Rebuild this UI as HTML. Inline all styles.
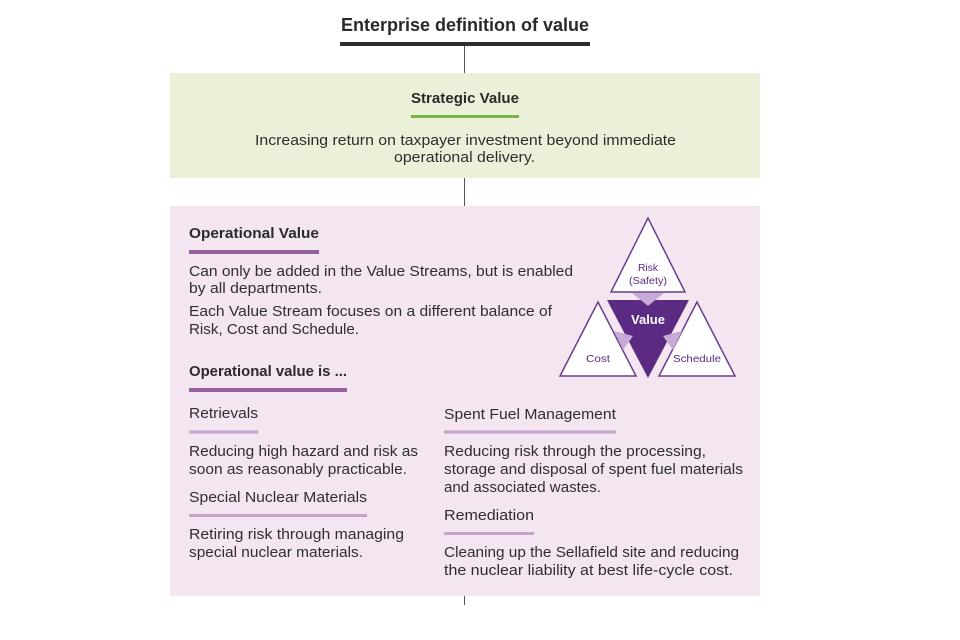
<!DOCTYPE html>
<html>
<head>
<meta charset="utf-8">
<style>
  html, body { margin:0; padding:0; background:#ffffff; }
  svg { display:block; }
  text { font-family: "Liberation Sans", "DejaVu Sans", sans-serif; }
  .b { font-size:15px; fill:#2e2e2e; }
  .h { font-size:14.5px; fill:#2a2a2a; font-weight:bold; }
  .s { font-size:15px; fill:#2e2e2e; }
  .t { fill:#5b2a82; font-size:10.5px; }
</style>
</head>
<body>
<svg width="960" height="640" viewBox="0 0 960 640" xmlns="http://www.w3.org/2000/svg">
  <rect x="0" y="0" width="960" height="640" fill="#ffffff"/>

  <!-- Title -->
  <text x="341" y="31" font-size="18" font-weight="bold" fill="#2a2a2a" textLength="248" lengthAdjust="spacingAndGlyphs">Enterprise definition of value</text>
  <rect x="340" y="42" width="250" height="4" fill="#2d2d2d"/>

  <!-- connector lines -->
  <line x1="464.5" y1="46" x2="464.5" y2="74" stroke="#555" stroke-width="1"/>
  <line x1="464.5" y1="178" x2="464.5" y2="207" stroke="#555" stroke-width="1"/>
  <line x1="464.5" y1="596" x2="464.5" y2="605" stroke="#555" stroke-width="1"/>

  <!-- Strategic box -->
  <rect x="170" y="73" width="590" height="105" fill="#ebf0d9"/>
  <text x="411" y="103" class="h" textLength="108" lengthAdjust="spacingAndGlyphs">Strategic Value</text>
  <rect x="411" y="115" width="108" height="3" fill="#78b543"/>
  <text x="255" y="145" class="b" textLength="421" lengthAdjust="spacingAndGlyphs">Increasing return on taxpayer investment beyond immediate</text>
  <text x="394" y="162" class="b" textLength="141" lengthAdjust="spacingAndGlyphs">operational delivery.</text>

  <!-- Operational box -->
  <rect x="170" y="206" width="590" height="390" fill="#f4e6f0"/>

  <text x="189" y="238" class="h" textLength="130" lengthAdjust="spacingAndGlyphs">Operational Value</text>
  <rect x="189" y="250" width="130" height="4" fill="#94609f"/>
  <text x="189" y="276" class="b" textLength="384" lengthAdjust="spacingAndGlyphs">Can only be added in the Value Streams, but is enabled</text>
  <text x="189" y="293" class="b" textLength="133" lengthAdjust="spacingAndGlyphs">by all departments.</text>
  <text x="189" y="316" class="b" textLength="363" lengthAdjust="spacingAndGlyphs">Each Value Stream focuses on a different balance of</text>
  <text x="189" y="334" class="b" textLength="170" lengthAdjust="spacingAndGlyphs">Risk, Cost and Schedule.</text>

  <text x="189" y="376" class="h" textLength="158" lengthAdjust="spacingAndGlyphs">Operational value is ...</text>
  <rect x="189" y="388" width="158" height="4" fill="#94609f"/>

  <!-- Left column -->
  <text x="189" y="418" class="s" textLength="69" lengthAdjust="spacingAndGlyphs">Retrievals</text>
  <rect x="189" y="430.5" width="69" height="3" fill="#c6a2cd"/>
  <text x="189" y="456" class="b" textLength="229" lengthAdjust="spacingAndGlyphs">Reducing high hazard and risk as</text>
  <text x="189" y="474" class="b" textLength="218" lengthAdjust="spacingAndGlyphs">soon as reasonably practicable.</text>
  <text x="189" y="502" class="s" textLength="178" lengthAdjust="spacingAndGlyphs">Special Nuclear Materials</text>
  <rect x="189" y="514" width="178" height="3" fill="#c6a2cd"/>
  <text x="189" y="539" class="b" textLength="215" lengthAdjust="spacingAndGlyphs">Retiring risk through managing</text>
  <text x="189" y="557" class="b" textLength="174" lengthAdjust="spacingAndGlyphs">special nuclear materials.</text>

  <!-- Right column -->
  <text x="444" y="419" class="s" textLength="172" lengthAdjust="spacingAndGlyphs">Spent Fuel Management</text>
  <rect x="444" y="430.5" width="172" height="3" fill="#c6a2cd"/>
  <text x="444" y="456" class="b" textLength="262" lengthAdjust="spacingAndGlyphs">Reducing risk through the processing,</text>
  <text x="444" y="474" class="b" textLength="299" lengthAdjust="spacingAndGlyphs">storage and disposal of spent fuel materials</text>
  <text x="444" y="492" class="b" textLength="157" lengthAdjust="spacingAndGlyphs">and associated wastes.</text>
  <text x="444" y="520" class="s" textLength="90" lengthAdjust="spacingAndGlyphs">Remediation</text>
  <rect x="444" y="532" width="90" height="3" fill="#c6a2cd"/>
  <text x="444" y="557" class="b" textLength="295" lengthAdjust="spacingAndGlyphs">Cleaning up the Sellafield site and reducing</text>
  <text x="444" y="575" class="b" textLength="289" lengthAdjust="spacingAndGlyphs">the nuclear liability at best life-cycle cost.</text>

  <!-- Triangle diagram -->
  <polygon points="607,300 689,300 648,378" fill="#5b2a82"/>
  <polygon points="648,218 611,292 685,292" fill="#ffffff" stroke="#6a3d8f" stroke-width="1.5"/>
  <polygon points="598,302 560,376 636,376" fill="#ffffff" stroke="#6a3d8f" stroke-width="1.5"/>
  <polygon points="697,302 659,376 735,376" fill="#ffffff" stroke="#6a3d8f" stroke-width="1.5"/>
  <polygon points="632,293 664,293 648,306" fill="#c7a9d6"/>
  <polygon points="614,331 623,350 633,336" fill="#c7a9d6"/>
  <polygon points="682,331 673,350 663,336" fill="#c7a9d6"/>

  <text x="648" y="271" class="t" text-anchor="middle" textLength="20" lengthAdjust="spacingAndGlyphs">Risk</text>
  <text x="648" y="284" class="t" text-anchor="middle" textLength="38" lengthAdjust="spacingAndGlyphs">(Safety)</text>
  <text x="648" y="324" font-size="12.5" font-weight="bold" fill="#ffffff" text-anchor="middle" textLength="34" lengthAdjust="spacingAndGlyphs">Value</text>
  <text x="598" y="362" class="t" text-anchor="middle" textLength="24" lengthAdjust="spacingAndGlyphs">Cost</text>
  <text x="697" y="362" class="t" text-anchor="middle" textLength="48" lengthAdjust="spacingAndGlyphs">Schedule</text>
</svg>
</body>
</html>
